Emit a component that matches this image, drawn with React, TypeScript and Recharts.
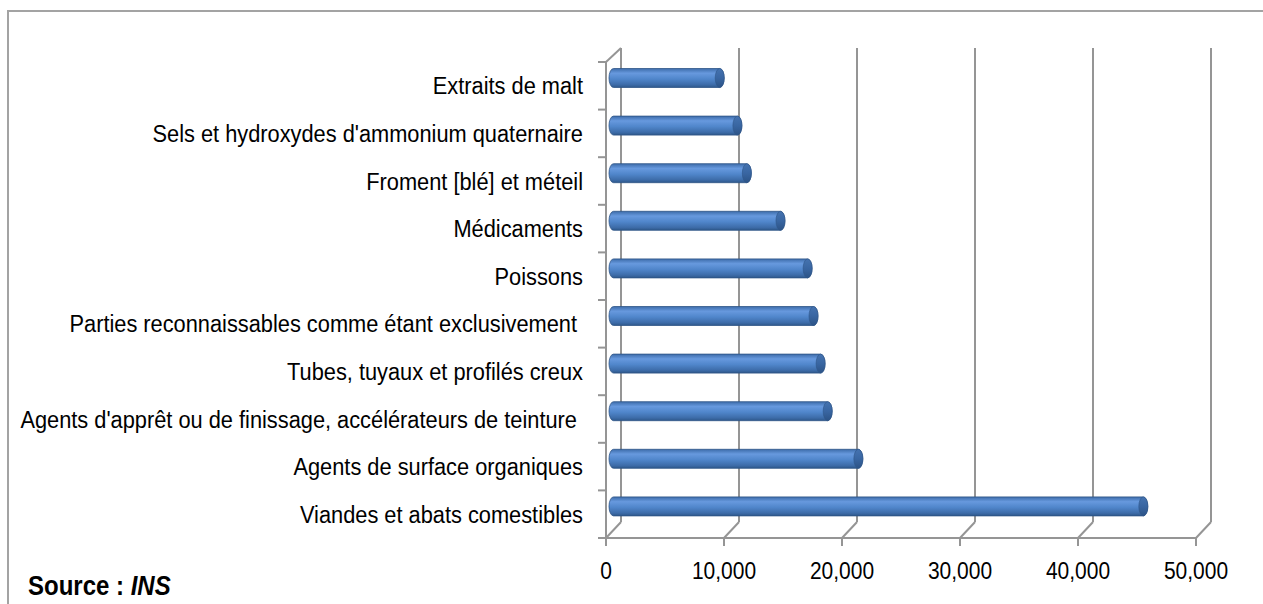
import React from 'react';
import { BarChart, Bar, XAxis, YAxis, CartesianGrid } from 'recharts';

const categories = [
  'Extraits de malt',
  "Sels et hydroxydes d'ammonium quaternaire",
  'Froment [blé] et méteil',
  'Médicaments',
  'Poissons',
  'Parties reconnaissables comme étant exclusivement ',
  'Tubes, tuyaux et profilés creux',
  "Agents d'apprêt ou de finissage, accélérateurs de teinture ",
  'Agents de surface organiques',
  'Viandes et abats comestibles',
];
const values = [9000, 10500, 11300, 14150, 16450, 16950, 17550, 18150, 20750, 44900];
const xTicks = [0, 10000, 20000, 30000, 40000, 50000];

const data = categories.map((name, i) => ({ name, value: values[i] }));

const W = 1263;
const H = 604;
const MARGIN = { top: 62, right: 67, left: 0, bottom: 16 };
const X_AXIS_H = 50;
const Y_AXIS_W = 606;
const DEPTH = 15;
const GRID = '#959595';
const FONT = '"Liberation Sans", Arial, sans-serif';
const STRETCH = 1.13;

const plotH = H - MARGIN.top - MARGIN.bottom - X_AXIS_H;
const band = plotH / categories.length;
const axisX = MARGIN.left + Y_AXIS_W;

const fmt = (v: number) => v.toLocaleString('en-US');

const CylinderBar = (props: any) => {
  const { x, y, width, height } = props;
  if (!width || width <= 0) return null;
  const bx = x + DEPTH / 2;
  const by = y - DEPTH / 2;
  const rx = 4.5;
  const ry = height / 2;
  const right = bx + width;
  const d = `M${bx},${by} L${right},${by} A${rx},${ry} 0 0 1 ${right},${by + height} L${bx},${by + height} A${rx},${ry} 0 0 1 ${bx},${by} Z`;
  return (
    <g>
      <path d={d} fill="url(#cyl)" stroke="#2f5688" strokeWidth={0.8} />
      <ellipse cx={right} cy={by + ry} rx={rx} ry={ry} fill="url(#cap)" stroke="#2f5688" strokeWidth={0.6} />
    </g>
  );
};

const GridLine = (props: any) => {
  const { x1, y1, y2 } = props;
  return (
    <g key={props.key}>
      <line x1={x1 + DEPTH} y1={y1 - DEPTH + 1} x2={x1 + DEPTH} y2={y2 - DEPTH - 1} stroke={GRID} strokeWidth={2} />
      <line x1={x1} y1={y2} x2={x1 + DEPTH} y2={y2 - DEPTH - 1} stroke={GRID} strokeWidth={2} />
    </g>
  );
};

const XTick = (props: any) => {
  const { x, y, payload } = props;
  return (
    <text
      transform={`translate(${x},${y + 23}) scale(1,${STRETCH})`}
      textAnchor="middle"
      dy="0.35em"
      fontSize={21}
      fontFamily={FONT}
      fill="#000"
    >
      {fmt(payload.value)}
    </text>
  );
};

const YTick = (props: any) => {
  const { y, payload, index } = props;
  const top = y - band / 2;
  const bottom = y + band / 2;
  return (
    <g>
      <line x1={axisX - 8} y1={top} x2={axisX} y2={top} stroke={GRID} strokeWidth={2} />
      {index === categories.length - 1 && (
        <line x1={axisX - 8} y1={bottom} x2={axisX} y2={bottom} stroke={GRID} strokeWidth={2} />
      )}
      {index === 0 && (
        <line x1={axisX} y1={top} x2={axisX + DEPTH} y2={top - DEPTH + 1} stroke={GRID} strokeWidth={2} />
      )}
      <text
        transform={`translate(${axisX - 23},${y}) scale(1,${STRETCH})`}
        textAnchor="end"
        dy="0.35em"
        fontSize={21.8}
        fontFamily={FONT}
        fill="#000"
        style={{ whiteSpace: 'pre' }}
      >
        {payload.value}
      </text>
    </g>
  );
};

export default function App() {
  return (
    <div style={{ position: 'fixed', left: 0, top: 0, width: W, height: H, overflow: 'hidden', background: '#fff' }}>
      <div
        style={{
          position: 'absolute',
          left: 7,
          top: 10,
          width: 1400,
          height: 800,
          border: '2px solid #a3a3a3',
        }}
      />
      <div style={{ position: 'absolute', left: 0, top: 0 }}>
        <BarChart width={W} height={H} data={data} layout="vertical" margin={MARGIN} barCategoryGap={0}>
          <defs>
            <linearGradient id="cyl" x1="0" y1="0" x2="0" y2="1">
              <stop offset="0%" stopColor="#3d6caa" />
              <stop offset="25%" stopColor="#6799de" />
              <stop offset="55%" stopColor="#5086cb" />
              <stop offset="85%" stopColor="#3d6ca9" />
              <stop offset="100%" stopColor="#2e578a" />
            </linearGradient>
            <linearGradient id="cap" x1="0" y1="0" x2="0" y2="1">
              <stop offset="0%" stopColor="#4573b0" />
              <stop offset="50%" stopColor="#3966a2" />
              <stop offset="100%" stopColor="#2c5386" />
            </linearGradient>
          </defs>
          <CartesianGrid horizontal={false} vertical={GridLine} />
          <XAxis
            type="number"
            domain={[0, 50000]}
            ticks={xTicks}
            height={X_AXIS_H}
            axisLine={{ stroke: GRID, strokeWidth: 2 }}
            tickLine={{ stroke: GRID, strokeWidth: 2 }}
            tickSize={8}
            tick={<XTick />}
            interval={0}
          />
          <YAxis
            type="category"
            dataKey="name"
            width={Y_AXIS_W}
            axisLine={{ stroke: GRID, strokeWidth: 2 }}
            tickLine={false}
            tick={<YTick />}
            interval={0}
          />
          <Bar dataKey="value" barSize={19} shape={<CylinderBar />} isAnimationActive={false} />
        </BarChart>
      </div>
      <div
        style={{
          position: 'absolute',
          left: 28,
          top: 570,
          fontFamily: FONT,
          fontSize: 24,
          fontWeight: 'bold',
          color: '#000',
          transform: `scaleY(${STRETCH})`,
          transformOrigin: 'left top',
          lineHeight: '28px',
          whiteSpace: 'pre',
        }}
      >
        Source : <i>INS</i>
      </div>
    </div>
  );
}
